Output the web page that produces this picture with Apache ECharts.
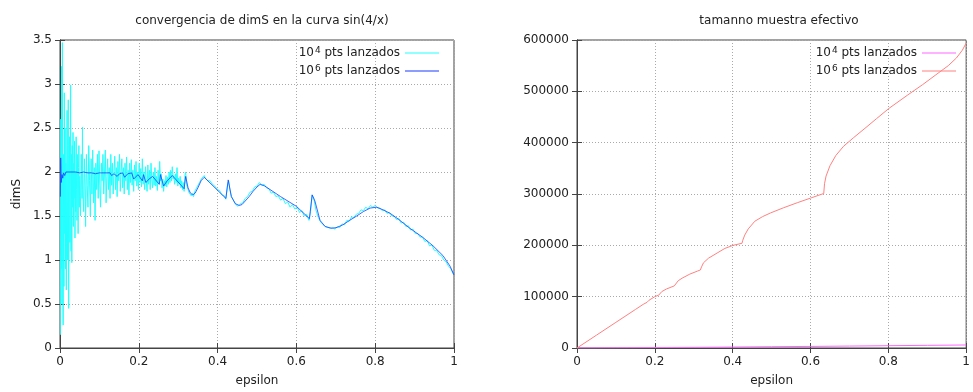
<!DOCTYPE html>
<html>
<head>
<meta charset="utf-8">
<script src="https://cdn.jsdelivr.net/npm/echarts@6/dist/echarts.min.js"></script>
<style>
  html, body { margin: 0; padding: 0; background: #fff; }
  #chart { width: 973px; height: 392px; }
</style>
</head>
<body>
<div id="chart"></div>
<script>
// ticks
const epsTicks = [0, 0.2, 0.4, 0.6, 0.8, 1];
const dimTicks = [0, 0.5, 1, 1.5, 2, 2.5, 3, 3.5];
const sizeTicks = [0, 100000, 200000, 300000, 400000, 500000, 600000];

const seriesNames = ['10^4 pts lanzados', '10^6 pts lanzados'];

// dimS, 10^4 puntos (ruidoso)
const dim4 = [
  [0.001, 0.15], [0.002, 2.6], [0.003, 0.9], [0.004, 3.2], [0.005, 0.5], [0.006, 3.47],
  [0.007, 1.1], [0.008, 0.26], [0.009, 2.2], [0.010, 0.7], [0.011, 2.9], [0.012, 1.3],
  [0.013, 2.5], [0.014, 0.9], [0.015, 2.1], [0.016, 0.66], [0.017, 1.9], [0.018, 2.7],
  [0.019, 1.0], [0.020, 2.3], [0.021, 2.82], [0.022, 0.45], [0.023, 1.8], [0.024, 2.4],
  [0.025, 1.2], [0.026, 2.0], [0.027, 2.99], [0.028, 1.1], [0.029, 2.2], [0.030, 0.97],
  [0.031, 2.3], [0.032, 1.6], [0.033, 2.45], [0.034, 1.38], [0.035, 2.1], [0.036, 1.7],
  [0.037, 2.35], [0.038, 1.25], [0.039, 2.0], [0.040, 1.55], [0.041, 2.4], [0.042, 1.8],
  [0.043, 1.45], [0.044, 2.2], [0.045, 1.9], [0.046, 1.3], [0.047, 2.05], [0.048, 2.3],
  [0.049, 1.6], [0.050, 1.95], [0.052, 1.5], [0.054, 2.2], [0.056, 1.7], [0.057, 2.51],
  [0.058, 1.8], [0.060, 1.55], [0.062, 2.15], [0.064, 1.75], [0.065, 1.38], [0.067, 2.2],
  [0.069, 1.85], [0.071, 1.6], [0.073, 2.3], [0.075, 1.9], [0.077, 1.5], [0.079, 2.15],
  [0.081, 1.75], [0.083, 2.25], [0.085, 1.65], [0.087, 2.05], [0.089, 1.45], [0.091, 2.1],
  [0.093, 1.8], [0.095, 2.2], [0.097, 1.7], [0.099, 2.24], [0.101, 1.85], [0.103, 1.6],
  [0.105, 2.1], [0.107, 1.9], [0.109, 2.2], [0.111, 1.75], [0.113, 2.0], [0.115, 2.25],
  [0.117, 1.65], [0.119, 1.95], [0.121, 2.15], [0.123, 1.8], [0.125, 2.05], [0.127, 1.7],
  [0.129, 2.2], [0.131, 1.85], [0.133, 2.1], [0.135, 1.75], [0.137, 2.0], [0.139, 2.18],
  [0.141, 1.8], [0.143, 2.05], [0.145, 1.72], [0.147, 2.12], [0.149, 1.9], [0.151, 2.2],
  [0.153, 1.78], [0.155, 2.0], [0.157, 2.15], [0.159, 1.82], [0.161, 2.05], [0.163, 1.75],
  [0.165, 2.1], [0.167, 1.9], [0.169, 2.17], [0.171, 1.8], [0.173, 2.02], [0.175, 1.74],
  [0.177, 2.1], [0.179, 1.88], [0.181, 2.14], [0.183, 1.85], [0.185, 2.02], [0.187, 1.78],
  [0.189, 2.08], [0.191, 1.9], [0.193, 2.12], [0.195, 1.84], [0.197, 2.0], [0.199, 1.8],
  [0.201, 2.1], [0.203, 1.88], [0.205, 2.04], [0.207, 1.83], [0.209, 2.15], [0.211, 1.86],
  [0.213, 2.0], [0.215, 1.8], [0.217, 2.06], [0.219, 1.9], [0.221, 1.78], [0.223, 2.08],
  [0.225, 1.86], [0.227, 2.02], [0.229, 1.8], [0.231, 2.1], [0.233, 1.92], [0.235, 1.82],
  [0.237, 2.0], [0.239, 1.85], [0.241, 2.05], [0.243, 1.84], [0.245, 1.95], [0.247, 1.79],
  [0.249, 2.02], [0.251, 1.86], [0.253, 2.12], [0.255, 1.9], [0.257, 1.98], [0.259, 1.82],
  [0.261, 1.92], [0.263, 1.78], [0.265, 1.9], [0.267, 1.84], [0.269, 1.96], [0.271, 1.83],
  [0.273, 1.94], [0.275, 1.86], [0.277, 2.0], [0.279, 1.88], [0.281, 2.02], [0.283, 1.9],
  [0.285, 2.06], [0.287, 1.92], [0.289, 1.96], [0.291, 1.86], [0.293, 1.98], [0.295, 1.88],
  [0.297, 2.05], [0.299, 1.84], [0.301, 1.93], [0.303, 1.86], [0.305, 1.95], [0.307, 1.82],
  [0.309, 1.9], [0.311, 1.8], [0.313, 1.88], [0.315, 1.78], [0.317, 1.96], [0.319, 2.0],
  [0.321, 1.86], [0.323, 1.84], [0.325, 1.8], [0.327, 1.77], [0.330, 1.79], [0.333, 1.73],
  [0.336, 1.76], [0.339, 1.72], [0.342, 1.78], [0.345, 1.76], [0.348, 1.83], [0.351, 1.82],
  [0.354, 1.88], [0.357, 1.87], [0.360, 1.93], [0.363, 1.91], [0.366, 1.96], [0.369, 1.93],
  [0.372, 1.95], [0.375, 1.9], [0.381, 1.90], [0.387, 1.86], [0.393, 1.84], [0.399, 1.80],
  [0.405, 1.79], [0.411, 1.74], [0.417, 1.73], [0.421, 1.69], [0.425, 1.85], [0.428, 1.90],
  [0.431, 1.80], [0.435, 1.72], [0.440, 1.68], [0.446, 1.63], [0.452, 1.61], [0.458, 1.64],
  [0.464, 1.65], [0.470, 1.70], [0.476, 1.72], [0.482, 1.77], [0.488, 1.78], [0.494, 1.83],
  [0.500, 1.84], [0.506, 1.88], [0.512, 1.85], [0.518, 1.86], [0.524, 1.82], [0.530, 1.81],
  [0.536, 1.76], [0.542, 1.77], [0.548, 1.72], [0.554, 1.73], [0.560, 1.68], [0.566, 1.70],
  [0.572, 1.64], [0.578, 1.66], [0.584, 1.60], [0.590, 1.63], [0.596, 1.58], [0.602, 1.60],
  [0.608, 1.54], [0.614, 1.56], [0.620, 1.50], [0.626, 1.52], [0.632, 1.45], [0.636, 1.55],
  [0.640, 1.74], [0.644, 1.70], [0.650, 1.56], [0.656, 1.48], [0.662, 1.43], [0.668, 1.40],
  [0.674, 1.38], [0.680, 1.37], [0.686, 1.36], [0.692, 1.37], [0.698, 1.35], [0.704, 1.38],
  [0.710, 1.37], [0.716, 1.41], [0.722, 1.40], [0.728, 1.45], [0.734, 1.44], [0.740, 1.49],
  [0.746, 1.48], [0.752, 1.52], [0.758, 1.53], [0.764, 1.57], [0.770, 1.56], [0.776, 1.60],
  [0.782, 1.58], [0.788, 1.62], [0.794, 1.60], [0.800, 1.62], [0.806, 1.59], [0.812, 1.59],
  [0.818, 1.56], [0.824, 1.57], [0.830, 1.53], [0.836, 1.54], [0.842, 1.50], [0.848, 1.50],
  [0.854, 1.46], [0.860, 1.47], [0.866, 1.42], [0.872, 1.43], [0.878, 1.38], [0.884, 1.39],
  [0.890, 1.34], [0.896, 1.35], [0.902, 1.30], [0.908, 1.30], [0.914, 1.26], [0.920, 1.26],
  [0.926, 1.21], [0.932, 1.22], [0.938, 1.16], [0.944, 1.17], [0.950, 1.11], [0.956, 1.11],
  [0.962, 1.06], [0.968, 1.05], [0.974, 1.00], [0.980, 0.98], [0.986, 0.93], [0.992, 0.90],
  [0.998, 0.84]
];

// dimS, 10^6 puntos
const dim6 = [
  [0.001, 1.72], [0.0018, 2.16], [0.003, 1.88], [0.005, 1.97], [0.007, 1.93], [0.009, 1.99],
  [0.012, 1.96], [0.015, 2.0], [0.02, 1.98], [0.025, 2.0], [0.03, 1.99], [0.04, 2.0],
  [0.05, 1.99], [0.06, 2.0], [0.07, 1.99], [0.08, 1.99], [0.09, 1.98], [0.1, 1.99],
  [0.106, 1.99], [0.11, 1.97], [0.116, 1.99], [0.12, 1.97], [0.127, 1.99], [0.131, 1.96],
  [0.137, 1.98], [0.141, 1.99], [0.145, 1.95], [0.151, 1.98], [0.159, 1.99], [0.164, 1.94],
  [0.172, 1.98], [0.182, 1.99], [0.187, 1.92], [0.198, 1.97], [0.209, 1.90], [0.212, 1.97],
  [0.218, 1.88], [0.226, 1.92], [0.235, 1.95], [0.252, 1.86], [0.255, 1.97], [0.263, 1.84],
  [0.272, 1.90], [0.285, 1.96], [0.315, 1.81], [0.319, 1.95], [0.325, 1.82], [0.331, 1.76],
  [0.337, 1.74], [0.343, 1.76], [0.350, 1.82], [0.358, 1.90], [0.366, 1.94], [0.421, 1.70],
  [0.427, 1.91], [0.435, 1.72], [0.445, 1.64], [0.455, 1.62], [0.462, 1.63], [0.47, 1.67],
  [0.48, 1.72], [0.49, 1.78], [0.5, 1.83], [0.508, 1.86], [0.52, 1.84], [0.56, 1.72],
  [0.6, 1.61], [0.633, 1.47], [0.640, 1.74], [0.647, 1.67], [0.660, 1.45], [0.673, 1.38],
  [0.690, 1.36], [0.703, 1.37], [0.718, 1.40], [0.735, 1.45], [0.753, 1.50], [0.770, 1.55],
  [0.787, 1.59], [0.804, 1.60], [0.82, 1.57], [0.838, 1.53], [0.86, 1.46], [0.888, 1.36],
  [0.92, 1.26], [0.947, 1.16], [0.972, 1.05], [0.99, 0.93], [1.0, 0.83]
];

// tamanno muestra efectivo
const size4 = [
  [0, 0], [0.1, 300], [0.2, 800], [0.3, 1300], [0.4, 1900], [0.5, 2500],
  [0.6, 3100], [0.7, 3800], [0.8, 4500], [0.9, 5200], [1.0, 5900]
];
const size6 = [
  [0, 0], [0.05, 25000], [0.1, 50000], [0.15, 75000], [0.17, 85000], [0.175, 88000],
  [0.18, 89000], [0.185, 93000], [0.2, 100000], [0.21, 103000], [0.213, 103000],
  [0.218, 110000], [0.23, 115000], [0.25, 121000], [0.254, 122000], [0.26, 131000],
  [0.27, 136000], [0.29, 144000], [0.31, 150000], [0.317, 152000], [0.32, 158000],
  [0.325, 166000], [0.338, 175000], [0.36, 185000], [0.38, 194000], [0.401, 200000],
  [0.424, 204000], [0.426, 210000], [0.431, 220000], [0.44, 232000], [0.457, 247000],
  [0.477, 256000], [0.497, 263000], [0.53, 273000], [0.566, 283000], [0.6, 292000],
  [0.634, 301000], [0.636, 320000], [0.64, 335000], [0.65, 355000], [0.665, 375000],
  [0.685, 393000], [0.711, 410000], [0.74, 428000], [0.77, 447000], [0.802, 467000],
  [0.85, 493000], [0.888, 513000], [0.92, 531000], [0.954, 550000], [0.975, 565000],
  [0.99, 580000], [1.0, 594000]
];

const font = 'DejaVu Sans';
const textColor = '#222';

let chart = echarts.init(document.getElementById('chart'));

// eje x comun (abajo con etiquetas, arriba solo marcas)
function xAxes(gridIndex) {
    let base = {
        type: 'value', gridIndex: gridIndex, min: 0, max: 1, interval: 0.2,
        axisLine: {lineStyle: {color: '#444'}},
        axisTick: {inside: true, length: 5, lineStyle: {color: '#444'}},
        splitLine: {show: false}
    };
    return [
        Object.assign({}, base, {
            position: 'bottom',
            name: 'epsilon', nameLocation: 'middle', nameGap: 27,
            nameTextStyle: {color: textColor, fontFamily: font, fontSize: 12},
            axisLabel: {color: textColor, fontFamily: font, fontSize: 12, margin: 8},
            splitLine: {show: true, lineStyle: {color: '#aaa', type: [1, 2]}}
        }),
        Object.assign({}, base, {position: 'top', axisLabel: {show: false}})
    ];
}

function yAxes(gridIndex, max, interval, name) {
    let base = {
        type: 'value', gridIndex: gridIndex, min: 0, max: max, interval: interval,
        axisLine: {show: true, lineStyle: {color: '#444'}},
        axisTick: {show: true, inside: true, length: 5, lineStyle: {color: '#444'}},
        splitLine: {show: false}
    };
    return [
        Object.assign({}, base, {
            position: 'left',
            name: name, nameLocation: 'middle', nameGap: 37, nameRotate: 90,
            nameTextStyle: {color: textColor, fontFamily: font, fontSize: 12},
            axisLabel: {color: textColor, fontFamily: font, fontSize: 12, margin: 8,
                formatter: v => String(v)},
            splitLine: {show: true, lineStyle: {color: '#aaa', type: [1, 2]}}
        }),
        Object.assign({}, base, {position: 'right', axisLabel: {show: false}})
    ];
}

function legendFor(gridIndex, right) {
    return {
        orient: 'vertical',
        right: right,
        top: 41,
        align: 'right',
        icon: 'rect',
        itemWidth: 34,
        itemHeight: 1,
        itemGap: 4,
        data: seriesNames.map(n => n + '#' + gridIndex),
        formatter: function (name) {
            let n = name.split('#')[0];
            return '10{sup|' + n.charAt(3) + '}' + n.slice(4);
        },
        textStyle: {
            color: textColor, fontFamily: font, fontSize: 12, lineHeight: 14,
            rich: {
                sup: {fontSize: 9, fontFamily: font, color: textColor, verticalAlign: 'top', lineHeight: 10, padding: [0, 0, 5, 1]}
            }
        }
    };
}

function line(name, xIndex, yIndex, data, color, width, opacity) {
    return {
        name: name, type: 'line', xAxisIndex: xIndex, yAxisIndex: yIndex,
        data: data, symbol: 'none', animation: false,
        lineStyle: {color: color, width: width, opacity: opacity},
        itemStyle: {color: color}
    };
}

let x0 = xAxes(0), x1 = xAxes(1);
let y0 = yAxes(0, 3.5, 0.5, 'dimS'), y1 = yAxes(1, 600000, 100000, '');

let option = {
    animation: false,
    title: [
        {text: 'convergencia de dimS en la curva sin(4/x)', left: 257, top: 10, textAlign: 'center',
            textStyle: {color: textColor, fontFamily: font, fontSize: 12, fontWeight: 'normal'}},
        {text: 'tamanno muestra efectivo', left: 774, top: 10, textAlign: 'center',
            textStyle: {color: textColor, fontFamily: font, fontSize: 12, fontWeight: 'normal'}}
    ],
    grid: [
        {left: 60, right: 519, top: 40, bottom: 41, show: true, borderColor: '#444', borderWidth: 1},
        {left: 577, right: 2, top: 40, bottom: 41, show: true, borderColor: '#444', borderWidth: 1}
    ],
    legend: [legendFor(0, 529), legendFor(1, 12)],
    xAxis: [x0[0], x0[1], x1[0], x1[1]],
    yAxis: [y0[0], y0[1], y1[0], y1[1]],
    series: [
        line(seriesNames[0] + '#0', 0, 0, dim4, '#22ffff', 1, 1),
        line(seriesNames[1] + '#0', 0, 0, dim6, '#1a3cff', 1, 0.8),
        line(seriesNames[0] + '#1', 2, 2, size4, '#ff66ff', 1, 1),
        line(seriesNames[1] + '#1', 2, 2, size6, '#ff8080', 1, 1)
    ]
};

chart.setOption(option);
</script>
</body>
</html>
